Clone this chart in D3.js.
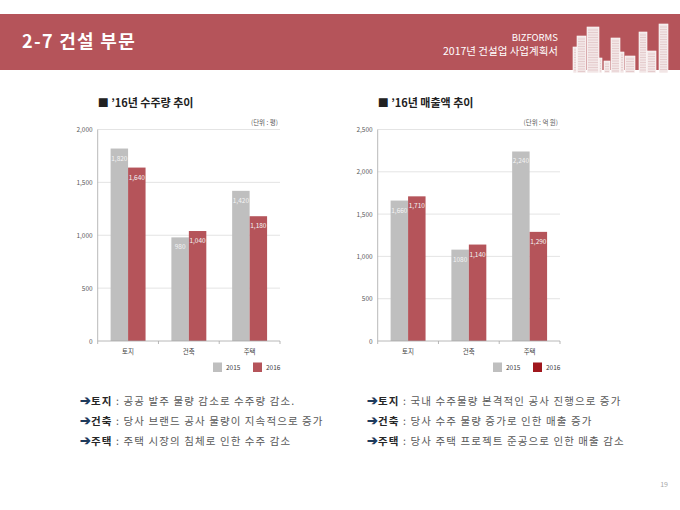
<!DOCTYPE html>
<html>
<head>
<meta charset="utf-8">
<script src="https://cdn.jsdelivr.net/npm/d3@7"></script>
<style>
  body { margin: 0; background: #fff; }
  svg { display: block; font-family: "Noto Sans CJK KR", "Noto Sans", sans-serif; }
</style>
</head>
<body>
<svg id="page" width="680" height="510"></svg>
<script>
// chart data
const categories = ["토지", "건축", "주택"];
const seriesNames = ["2015", "2016"];

const orders2015 = [1820, 980, 1420];
const orders2016 = [1640, 1040, 1180];
const orderLabels2015 = ["1,820", "980", "1,420"];
const orderLabels2016 = ["1,640", "1,040", "1,180"];
const orderTicks = [0, 500, 1000, 1500, 2000];
const orderTickLabels = ["0", "500", "1,000", "1,500", "2,000"];

const sales2015 = [1660, 1080, 2240];
const sales2016 = [1710, 1140, 1290];
const salesLabels2015 = ["1,660", "1080", "2,240"];
const salesLabels2016 = ["1,710", "1,140", "1,290"];
const salesTicks = [0, 500, 1000, 1500, 2000, 2500];
const salesTickLabels = ["0", "500", "1,000", "1,500", "2,000", "2,500"];

const notesLeft = [
  ["토지", " : 공공 발주 물량 감소로 수주량 감소."],
  ["건축", " : 당사 브랜드 공사 물량이 지속적으로 증가"],
  ["주택", " : 주택 시장의 침체로 인한 수주 감소"]
];
const notesRight = [
  ["토지", " : 국내 수주물량 본격적인 공사 진행으로 증가"],
  ["건축", " : 당사 수주 물량 증가로 인한 매출 증가"],
  ["주택", " : 당사 주택 프로젝트 준공으로 인한 매출 감소"]
];

const RED = "#b5545a";
const GRAY = "#bfbfbf";

const svg = d3.select("#page");

// header band
svg.append("rect")
  .attr("x", 0).attr("y", 14).attr("width", 680).attr("height", 56)
  .attr("fill", RED);

svg.append("text")
  .attr("x", 22).attr("y", 48)
  .attr("fill", "#fff")
  .attr("font-size", "18px")
  .attr("font-weight", "bold")
  .attr("letter-spacing", "1.3px")
  .text("2-7 건설 부문");

svg.append("text")
  .attr("x", 558).attr("y", 41)
  .attr("text-anchor", "end")
  .attr("fill", "#fff")
  .attr("font-size", "9.5px")
  .text("BIZFORMS");

svg.append("text")
  .attr("x", 558).attr("y", 55)
  .attr("text-anchor", "end")
  .attr("fill", "#fff")
  .attr("font-size", "10.5px")
  .text("2017년 건설업 사업계획서");

// skyline decoration (x, top, width)
const towers = [
  [573, 47, 4], [577, 36, 9], [587, 27, 12], [599, 58, 3],
  [604, 61, 6], [611, 38, 9], [620, 52, 4], [625, 56, 10],
  [639, 32, 8], [647, 51, 9], [659, 24, 9]
];
const sky = svg.append("g");
towers.forEach((t) => {
  sky.append("rect")
    .attr("x", t[0]).attr("y", t[1])
    .attr("width", t[2]).attr("height", 73 - t[1])
    .attr("fill", "#f2e6e6")
    .attr("stroke", "#fff")
    .attr("stroke-width", 0.6);
  for (let yy = t[1] + 3; yy < 72; yy += 2.5) {
    sky.append("line")
      .attr("x1", t[0] + 1).attr("x2", t[0] + t[2] - 1)
      .attr("y1", yy).attr("y2", yy)
      .attr("stroke", "#d9b3b5")
      .attr("stroke-width", 0.5);
  }
});

function drawBars(opts) {
  const g = svg.append("g");
  const yTop = 129.5, yBottom = 341;

  const x = d3.scaleBand()
    .domain(categories)
    .range([opts.x0, opts.x1])
    .paddingInner(0.425)
    .paddingOuter(0.2125);
  const xs = d3.scaleBand().domain(seriesNames).range([0, x.bandwidth()]);
  const y = d3.scaleLinear()
    .domain([0, opts.ticks[opts.ticks.length - 1]])
    .range([yBottom, yTop]);

  // title and unit
  g.append("text")
    .attr("x", opts.x0).attr("y", 107)
    .attr("font-size", "11px")
    .attr("font-weight", "bold")
    .attr("fill", "#222")
    .text(opts.title);

  g.append("text")
    .attr("x", opts.x1 - 2).attr("y", 125)
    .attr("text-anchor", "end")
    .attr("font-size", "6.5px")
    .attr("fill", "#595959")
    .text(opts.unit);

  // gridlines + y labels
  g.selectAll(".grid")
    .data(opts.ticks.slice(1))
    .join("line")
    .attr("x1", opts.x0).attr("x2", opts.x1)
    .attr("y1", (d) => y(d)).attr("y2", (d) => y(d))
    .attr("stroke", "#d9d9d9")
    .attr("stroke-width", 0.7);

  g.selectAll(".ylab")
    .data(opts.ticks)
    .join("text")
    .attr("x", opts.x0 - 5)
    .attr("y", (d) => y(d) + 2.5)
    .attr("text-anchor", "end")
    .attr("font-size", "6.5px")
    .attr("fill", "#595959")
    .text((d, i) => opts.tickLabels[i]);

  // bars
  const rows = categories.map((c, i) => ({
    cat: c,
    vals: [
      { s: "2015", v: opts.a[i], lab: opts.aLab[i], c: GRAY },
      { s: "2016", v: opts.b[i], lab: opts.bLab[i], c: RED }
    ]
  }));

  const grp = g.selectAll(".cat")
    .data(rows)
    .join("g")
    .attr("transform", (d) => "translate(" + x(d.cat) + ",0)");

  grp.selectAll("rect")
    .data((d) => d.vals)
    .join("rect")
    .attr("x", (d) => xs(d.s))
    .attr("y", (d) => y(d.v))
    .attr("width", xs.bandwidth())
    .attr("height", (d) => yBottom - y(d.v))
    .attr("fill", (d) => d.c);

  grp.selectAll("text")
    .data((d) => d.vals)
    .join("text")
    .attr("x", (d) => xs(d.s) + xs.bandwidth() / 2)
    .attr("y", (d) => y(d.v) + 12)
    .attr("text-anchor", "middle")
    .attr("font-size", "6.5px")
    .attr("fill", "#f4f4f4")
    .text((d) => d.lab);

  // axes lines
  g.append("line")
    .attr("x1", opts.x0).attr("x2", opts.x0)
    .attr("y1", yTop).attr("y2", yBottom)
    .attr("stroke", "#a6a6a6").attr("stroke-width", 0.8);
  g.append("line")
    .attr("x1", opts.x0).attr("x2", opts.x1)
    .attr("y1", yBottom).attr("y2", yBottom)
    .attr("stroke", "#a6a6a6").attr("stroke-width", 0.8);

  const step = x.step();
  d3.range(categories.length + 1).forEach((i) => {
    const xx = opts.x0 + i * step;
    g.append("line")
      .attr("x1", xx).attr("x2", xx)
      .attr("y1", yBottom).attr("y2", yBottom + 3)
      .attr("stroke", "#a6a6a6").attr("stroke-width", 0.8);
  });

  g.selectAll(".xlab")
    .data(categories)
    .join("text")
    .attr("x", (d) => x(d) + x.bandwidth() / 2)
    .attr("y", 354)
    .attr("text-anchor", "middle")
    .attr("font-size", "6.5px")
    .attr("fill", "#404040")
    .text((d) => d);

  // legend
  const legendColors = [GRAY, opts.legendRed];
  seriesNames.forEach((s, i) => {
    const lx = opts.x1 - 67 + i * 40;
    g.append("rect")
      .attr("x", lx).attr("y", 362.5)
      .attr("width", 9).attr("height", 9.5)
      .attr("fill", legendColors[i]);
    g.append("text")
      .attr("x", lx + 13).attr("y", 370)
      .attr("font-size", "6.5px")
      .attr("fill", "#404040")
      .text(s);
  });
}

drawBars({
  x0: 97.7, x1: 280,
  title: "■ ’16년 수주량 추이",
  unit: "(단위 : 평)",
  a: orders2015, b: orders2016,
  aLab: orderLabels2015, bLab: orderLabels2016,
  ticks: orderTicks, tickLabels: orderTickLabels,
  legendRed: RED
});

drawBars({
  x0: 377.7, x1: 560,
  title: "■ ’16년 매출액 추이",
  unit: "(단위 : 억 원)",
  a: sales2015, b: sales2016,
  aLab: salesLabels2015, bLab: salesLabels2016,
  ticks: salesTicks, tickLabels: salesTickLabels,
  legendRed: "#a0171d"
});

// notes under the charts
function drawNotes(notes, x0) {
  notes.forEach((n, i) => {
    const t = svg.append("text")
      .attr("x", x0)
      .attr("y", 405 + i * 20)
      .attr("font-size", "10.5px")
      .attr("letter-spacing", "1.1px");
    t.append("tspan").attr("fill", "#1f3b5c").attr("font-weight", "bold")
      .attr("font-size", "12.5px").attr("letter-spacing", "0px").text("➔");
    t.append("tspan").attr("fill", "#262626").attr("font-weight", "bold").text(n[0]);
    t.append("tspan").attr("fill", "#595959").text(n[1]);
  });
}
drawNotes(notesLeft, 80);
drawNotes(notesRight, 367);

svg.append("text")
  .attr("x", 668).attr("y", 487)
  .attr("text-anchor", "end")
  .attr("font-size", "7px")
  .attr("fill", "#a6a6a6")
  .text("19");
</script>
</body>
</html>
